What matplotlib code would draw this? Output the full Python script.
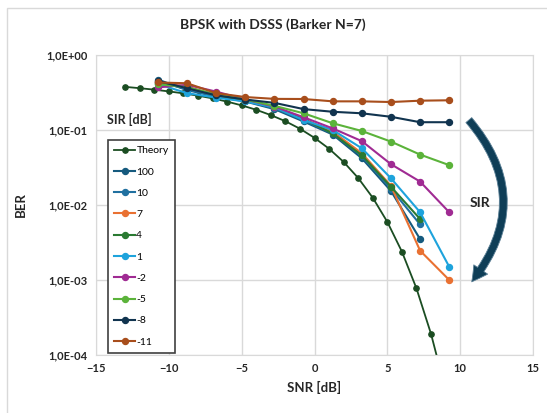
import numpy as np
import matplotlib
matplotlib.use("Agg")
import matplotlib.pyplot as plt
from matplotlib.ticker import FuncFormatter, FixedLocator
from matplotlib.patches import FancyArrowPatch, Rectangle

plt.rcParams['font.family'] = ['Lato', 'DejaVu Sans']

# theory curve (BPSK)
snr_theory = [-13, -12, -11, -10, -9, -8, -7, -6, -5, -4, -3, -2, -1, 0, 1, 2, 3, 4, 5, 6, 7, 8, 9]
ber_theory = [0.376, 0.361, 0.345, 0.327, 0.308, 0.287, 0.264, 0.239, 0.213, 0.186, 0.158, 0.131,
              0.104, 0.0786, 0.0563, 0.0375, 0.0229, 0.0125, 0.00595, 0.00239, 0.000773, 0.000191, 3.4e-5]

# simulated curves, one per SIR value
snr_sim = [-10.75, -8.75, -6.75, -4.75, -2.75, -0.75, 1.25, 3.25, 5.25, 7.25, 9.25]
sir_labels = ['100', '10', '7', '4', '1', '-2', '-5', '-8', '-11']
ber_sir100 = [0.47, 0.34, 0.28, 0.24, 0.19, 0.13, 0.087, 0.042, 0.0154, 0.0035]
ber_sir10 = [0.44, 0.35, 0.28, 0.245, 0.195, 0.135, 0.09, 0.045, 0.0165, 0.0055]
ber_sir7 = [0.43, 0.38, 0.29, 0.25, 0.205, 0.14, 0.095, 0.049, 0.018, 0.00246, 0.001]
ber_sir4 = [0.42, 0.37, 0.29, 0.25, 0.20, 0.14, 0.09, 0.046, 0.0175, 0.0065]
ber_sir1 = [0.41, 0.31, 0.27, 0.24, 0.20, 0.136, 0.10, 0.057, 0.0227, 0.008, 0.0015]
ber_sirm2 = [0.37, 0.40, 0.325, 0.255, 0.205, 0.148, 0.105, 0.071, 0.035, 0.0205, 0.008]
ber_sirm5 = [0.41, 0.37, 0.30, 0.255, 0.21, 0.167, 0.123, 0.097, 0.070, 0.047, 0.034]
ber_sirm8 = [0.45, 0.36, 0.29, 0.255, 0.23, 0.19, 0.175, 0.167, 0.15, 0.127, 0.127]
ber_sirm11 = [0.43, 0.42, 0.31, 0.275, 0.26, 0.259, 0.241, 0.241, 0.236, 0.246, 0.249]
ber_sim = [ber_sir100, ber_sir10, ber_sir7, ber_sir4, ber_sir1, ber_sirm2, ber_sirm5, ber_sirm8, ber_sirm11]
colors = ['#155a7e', '#2070a0', '#e97132', '#2a7a32', '#1ea3dc', '#a02b93', '#5bb33a', '#11344f', '#a84e1c']

W, H = 547, 413
fig = plt.figure(figsize=(W / 100, H / 100), dpi=100)
ax = fig.add_axes([96 / W, 1 - 355 / H, 437 / W, 300 / H])

ax.plot(snr_theory, ber_theory, color='#1b4d22', marker='o', ms=3.8, lw=1.3, label='Theory')
for lab, ys, c in zip(sir_labels, ber_sim, colors):
    ax.plot(snr_sim[:len(ys)], ys, color=c, marker='o', ms=4.3, lw=1.5, label=lab)

ax.set_yscale('log')
ax.set_xlim(-15, 15)
ax.set_ylim(1e-4, 1)
ax.xaxis.set_major_locator(FixedLocator(np.arange(-15, 16, 5)))
ax.yaxis.set_major_locator(FixedLocator([1e-4, 1e-3, 1e-2, 1e-1, 1]))
ax.yaxis.set_minor_locator(FixedLocator([]))
ax.yaxis.set_major_formatter(FuncFormatter(lambda v, p: f"{v:.1E}".replace('.', ',')))
ax.grid(True, color='#d9d9d9', lw=1)
ax.set_axisbelow(True)
for s in ax.spines.values():
    s.set_color('#d9d9d9')
ax.tick_params(length=0, labelsize=8, colors='#262626', pad=6)
for t in ax.get_xticklabels() + ax.get_yticklabels():
    t.set_fontweight('bold')

ax.set_xlabel('SNR [dB]', fontsize=9.5, fontweight='bold', color='#262626', labelpad=5)
ax.set_ylabel('BER', fontsize=9.5, fontweight='bold', color='#262626', labelpad=14)
fig.text(273 / W, 1 - 25 / H, 'BPSK with DSSS (Barker N=7)', ha='center', va='center',
         fontsize=10, fontweight='bold', color='#262626')

leg = ax.legend(loc='upper left', bbox_to_anchor=(0.016, 0.735), fontsize=7.5, frameon=True,
                fancybox=False, edgecolor='#404040', framealpha=1, handlelength=2.0,
                labelspacing=1.15, borderpad=0.6, handletextpad=0.1)
leg.get_frame().set_linewidth(1.2)
ax.text(0.025, 0.785, 'SIR [dB]', transform=ax.transAxes, fontsize=9, fontweight='bold',
        color='#262626', va='center')

# curved arrow showing SIR direction
arr = FancyArrowPatch((467 / W, 1 - 118 / H), (470 / W, 1 - 284 / H), transform=fig.transFigure,
                      connectionstyle='arc3,rad=-0.42',
                      arrowstyle='simple,head_width=12,head_length=11,tail_width=5.5',
                      facecolor='#0f3e57', edgecolor='#5a7f95', lw=0.6)
fig.patches.append(arr)
fig.text(480 / W, 1 - 203 / H, 'SIR', ha='center', va='center', fontsize=10,
         fontweight='bold', color='#262626')

# chart area border
fig.patches.append(Rectangle((7 / W, -0.05), 1.1, 1 - 8 / H + 0.05, transform=fig.transFigure,
                             fill=False, edgecolor='#d9d9d9', lw=1))

fig.savefig('out.png', dpi=100)
